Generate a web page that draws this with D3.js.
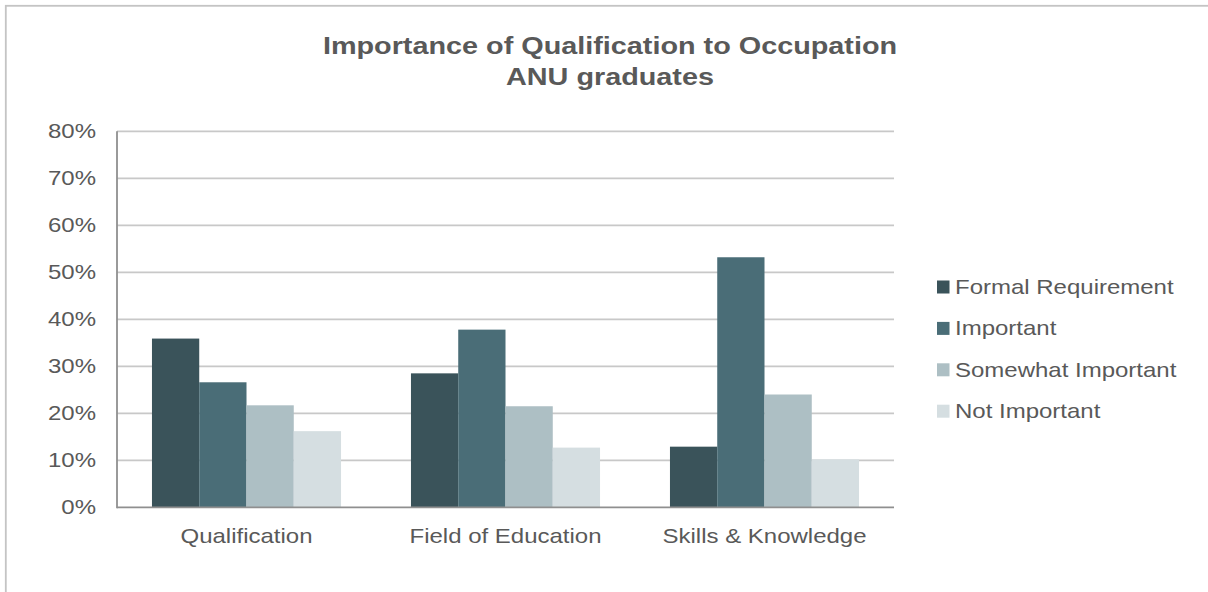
<!DOCTYPE html>
<html>
<head>
<meta charset="utf-8">
<script src="https://cdn.jsdelivr.net/npm/d3@7"></script>
<style>
  body { margin: 0; background: #fff; }
  svg text { font-family: "Liberation Sans", Arial, sans-serif; fill: #595959; }
</style>
</head>
<body>
<div id="chart"></div>
<script>
// chart values
var categories = ["Qualification", "Field of Education", "Skills & Knowledge"];
var seriesNames = ["Formal Requirement", "Important", "Somewhat Important", "Not Important"];
var formalReq = [35.9, 28.5, 12.9];
var important = [26.6, 37.8, 53.2];
var somewhat = [21.7, 21.5, 24.0];
var notImportant = [16.2, 12.7, 10.2];
var yTicks = [0, 10, 20, 30, 40, 50, 60, 70, 80];
var titleLines = ["Importance of Qualification to Occupation", "ANU graduates"];

var colors = ["#3a535a", "#4a6d77", "#adbfc4", "#d5dee1"];
var seriesValues = [formalReq, important, somewhat, notImportant];

var W = 1208, H = 592;
//plot area
var margin = { top: 131.3, left: 117, right: 314, bottom: 84.7 };
var width = W - margin.left - margin.right;
var height = H - margin.top - margin.bottom;
var stretch = 1.2; // text in the picture is a bit wide

var svg = d3.select("#chart").append("svg")
  .attr("width", W)
  .attr("height", H);

// outer frame, runs off the right and bottom edges
svg.append("rect")
  .attr("x", 5.8).attr("y", 5.8)
  .attr("width", W + 50).attr("height", H + 50)
  .attr("fill", "none")
  .attr("stroke", "#c4c4c4")
  .attr("stroke-width", 1.8);

function stretchedText(sel, x, y) {
  return sel.append("g")
    .attr("transform", "translate(" + x + "," + y + ") scale(" + stretch + ",1)")
    .append("text");
}

// title
titleLines.forEach(function(t, i) {
  stretchedText(svg, 610, 54 + i * 31)
    .attr("text-anchor", "middle")
    .attr("font-size", 24)
    .attr("font-weight", "bold")
    .text(t);
});

var g = svg.append("g")
  .attr("transform", "translate(" + margin.left + "," + margin.top + ")");

var x0 = d3.scaleBand().domain(categories).range([0, width]).paddingInner(0).paddingOuter(0);
var x1 = d3.scaleBand().domain(seriesNames)
  .range([x0.bandwidth() * 0.135, x0.bandwidth() * 0.865]);
var y = d3.scaleLinear().domain([0, 80]).range([height, 0]);

// gridlines
g.append("g")
  .selectAll("line")
  .data(yTicks.filter(function(d) { return d > 0; }))
  .join("line")
  .attr("x1", 0).attr("x2", width)
  .attr("y1", function(d) { return y(d); })
  .attr("y2", function(d) { return y(d); })
  .attr("stroke", "#c8c8c8")
  .attr("stroke-width", 1.8);

// y tick labels
yTicks.forEach(function(d) {
  stretchedText(g, -21, y(d))
    .attr("text-anchor", "end")
    .attr("dy", "0.35em")
    .attr("font-size", 20)
    .text(d + "%");
});

// bars
var groups = g.append("g")
  .selectAll("g")
  .data(categories)
  .join("g")
  .attr("transform", function(d) { return "translate(" + x0(d) + ",0)"; });

groups.selectAll("rect")
  .data(function(c, ci) {
    return seriesNames.map(function(s, si) {
      return { series: s, idx: si, value: seriesValues[si][ci] };
    });
  })
  .join("rect")
  .attr("x", function(d) { return x1(d.series); })
  .attr("width", x1.bandwidth())
  .attr("y", function(d) { return y(d.value); })
  .attr("height", function(d) { return height - y(d.value); })
  .attr("fill", function(d) { return colors[d.idx]; });

// axes lines
g.append("line")
  .attr("x1", 0).attr("x2", 0)
  .attr("y1", 0).attr("y2", height + 1)
  .attr("stroke", "#8f8f8f").attr("stroke-width", 1.8);
g.append("line")
  .attr("x1", 0).attr("x2", width)
  .attr("y1", height).attr("y2", height)
  .attr("stroke", "#8f8f8f").attr("stroke-width", 1.8);

// category labels
categories.forEach(function(c) {
  stretchedText(g, x0(c) + x0.bandwidth() / 2, height + 36)
    .attr("text-anchor", "middle")
    .attr("font-size", 20)
    .text(c);
});

// legend
var legend = svg.append("g");
seriesNames.forEach(function(s, i) {
  var cy = 287 + i * 41.4;
  legend.append("rect")
    .attr("x", 937).attr("y", cy - 6.5)
    .attr("width", 12.5).attr("height", 13)
    .attr("fill", colors[i]);
  stretchedText(legend, 955, cy)
    .attr("dy", "0.35em")
    .attr("font-size", 20)
    .text(s);
});
</script>
</body>
</html>
